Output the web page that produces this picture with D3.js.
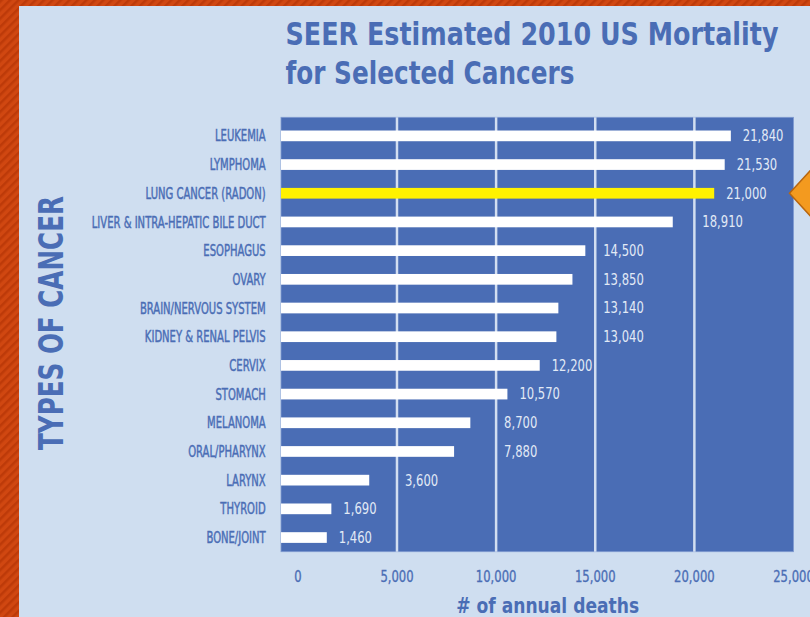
<!DOCTYPE html>
<html>
<head>
<meta charset="utf-8">
<script src="https://cdn.jsdelivr.net/npm/d3@7"></script>
<style>
  body { margin: 0; background: #cf4410; }
  svg { display: block; }
</style>
</head>
<body>
<div id="chart"></div>
<script>
// data
const categories = [
  "LEUKEMIA", "LYMPHOMA", "LUNG CANCER (RADON)", "LIVER & INTRA-HEPATIC BILE DUCT",
  "ESOPHAGUS", "OVARY", "BRAIN/NERVOUS SYSTEM", "KIDNEY & RENAL PELVIS", "CERVIX",
  "STOMACH", "MELANOMA", "ORAL/PHARYNX", "LARYNX", "THYROID", "BONE/JOINT"
];
const deaths = [21840, 21530, 21000, 18910, 14500, 13850, 13140, 13040, 12200, 10570, 8700, 7880, 3600, 1690, 1460];
const highlighted = "LUNG CANCER (RADON)";
const xTicks = [0, 5000, 10000, 15000, 20000, 25000];
const titleLines = ["SEER Estimated 2010 US Mortality", "for Selected Cancers"];
const xTitle = "# of annual deaths";
const yTitle = "TYPES OF CANCER";

const rows = categories.map((c, i) => ({ name: c, value: deaths[i] }));

const W = 810, H = 617;
const panelBg = "#cfdef0", plotBg = "#4a6db5", textBlue = "#4a6db5";
const narrow = "'Liberation Sans Narrow', 'DejaVu Sans Condensed', sans-serif";
const heavy = "'DejaVu Sans', sans-serif";
const squeeze = 0.72;  // the original font is very condensed

const svg = d3.select("#chart").append("svg")
  .attr("width", W)
  .attr("height", H);

// striped orange frame
const pat = svg.append("defs").append("pattern")
  .attr("id", "stripes")
  .attr("width", 6).attr("height", 6)
  .attr("patternUnits", "userSpaceOnUse")
  .attr("patternTransform", "rotate(45)");
pat.append("rect").attr("width", 6).attr("height", 6).attr("fill", "#d04711");
pat.append("rect").attr("width", 2.5).attr("height", 6).attr("fill", "#bd3a09");

svg.append("rect").attr("width", W).attr("height", H).attr("fill", "url(#stripes)");
svg.append("rect")
  .attr("x", 19).attr("y", 6)
  .attr("width", W - 19).attr("height", H - 6)
  .attr("fill", panelBg);

// scales: the plot area starts a little left of zero, like the original
const x = d3.scaleLinear()
  .domain([-850, 25000])
  .range([281, 793.5]);

const y = d3.scaleBand()
  .domain(categories)
  .range([117.3, 551.7])
  .paddingInner(0.627)
  .paddingOuter(0.384)
  .align(0.6);

const [x0, x1] = x.range();
const [y0, y1] = y.range();

svg.append("rect")
  .attr("x", x0).attr("y", y0)
  .attr("width", x1 - x0).attr("height", y1 - y0)
  .attr("fill", plotBg)
  .attr("stroke", "#7f9bd0")
  .attr("stroke-width", 0.8);

// grid lines
const grid = xTicks.filter(t => t > 0 && t < 25000);
svg.append("g").selectAll("line")
  .data(grid)
  .join("line")
  .attr("x1", d => x(d)).attr("x2", d => x(d))
  .attr("y1", y0).attr("y2", y1)
  .attr("stroke", "#d2def1")
  .attr("stroke-width", 2.5);

// bars
svg.append("g").selectAll("rect")
  .data(rows)
  .join("rect")
  .attr("x", x0)
  .attr("y", d => y(d.name))
  .attr("width", d => x(d.value) - x0)
  .attr("height", y.bandwidth())
  .attr("fill", d => d.name === highlighted ? "#fff200" : "#ffffff");

// category labels
svg.append("g").selectAll("text")
  .data(rows)
  .join("text")
  .attr("transform", d => `translate(265.7,${y(d.name) + y.bandwidth() / 2}) scale(${squeeze},1)`)
  .attr("dy", "0.36em")
  .attr("text-anchor", "end")
  .style("font-family", narrow)
  .style("font-size", "15.5px")
  .attr("fill", textBlue)
  .attr("stroke", textBlue)
  .attr("stroke-width", 0.45)
  .text(d => d.name);

// value labels, pushed past a grid line when they would sit on it
const fmt = d3.format(",");
const valScale = 0.86;
const vg = svg.append("g");
rows.forEach(d => {
  const t = vg.append("text")
    .attr("dy", "0.36em")
    .style("font-family", narrow)
    .style("font-size", "15px")
    .attr("fill", "#e2eaf6")
    .text(fmt(d.value));
  const w = t.node().getComputedTextLength() * valScale;
  let pos = x(d.value) + 12;
  grid.forEach(g => {
    const gx = x(g);
    if (gx > x(d.value) && gx < pos + w + 2) pos = gx + 8;
  });
  t.attr("transform", `translate(${pos},${y(d.name) + y.bandwidth() / 2}) scale(${valScale},1)`);
});

// x axis tick labels
svg.append("g").selectAll("text")
  .data(xTicks)
  .join("text")
  .attr("transform", d => `translate(${x(d)},582) scale(${valScale},1)`)
  .attr("text-anchor", "middle")
  .style("font-family", narrow)
  .style("font-size", "15px")
  .attr("fill", textBlue)
  .attr("stroke", textBlue)
  .attr("stroke-width", 0.3)
  .text(d => fmt(d));

// arrow pointing at the highlighted bar
const ay = y(highlighted) + y.bandwidth() / 2;
const tip = x1 - 4;
svg.append("polygon")
  .attr("points", [[tip, ay], [tip + 23, ay - 25], [tip + 46, ay], [tip + 23, ay + 25]].join(" "))
  .attr("fill", "#f39a1f")
  .attr("stroke", "#b8660f")
  .attr("stroke-width", 1.5);

// titles
svg.append("text")
  .attr("x", 285.5).attr("y", 44.8)
  .attr("textLength", 493).attr("lengthAdjust", "spacingAndGlyphs")
  .style("font-family", heavy).style("font-weight", "bold").style("font-size", "32px")
  .attr("fill", textBlue)
  .text(titleLines[0]);
svg.append("text")
  .attr("x", 285.5).attr("y", 84.4)
  .attr("textLength", 289).attr("lengthAdjust", "spacingAndGlyphs")
  .style("font-family", heavy).style("font-weight", "bold").style("font-size", "32px")
  .attr("fill", textBlue)
  .text(titleLines[1]);

svg.append("text")
  .attr("x", 547.7).attr("y", 613)
  .attr("text-anchor", "middle")
  .attr("textLength", 183).attr("lengthAdjust", "spacingAndGlyphs")
  .style("font-family", heavy).style("font-weight", "bold").style("font-size", "22px")
  .attr("fill", textBlue)
  .text(xTitle);

svg.append("text")
  .attr("transform", "translate(63,323) rotate(-90)")
  .attr("text-anchor", "middle")
  .attr("textLength", 254).attr("lengthAdjust", "spacingAndGlyphs")
  .style("font-family", heavy).style("font-weight", "bold").style("font-size", "33px")
  .attr("fill", textBlue)
  .text(yTitle);
</script>
</body>
</html>
